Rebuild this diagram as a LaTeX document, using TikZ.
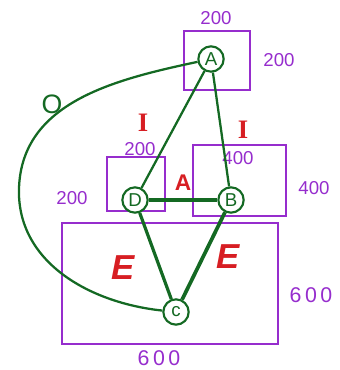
\documentclass[tikz,border=0pt]{standalone}
\usepackage{fontspec}
\setmainfont{Liberation Sans}
\newfontfamily\barfont{Liberation Serif}
\definecolor{boxpurple}{RGB}{150,45,205}
\definecolor{edgegreen}{RGB}{20,105,35}
\definecolor{labred}{RGB}{215,30,35}
\tikzset{
  vert/.style={circle,draw=edgegreen,line width=1.6pt,fill=white,text=edgegreen,
    minimum size=19pt,inner sep=0pt,font=\fontsize{14}{14}\selectfont},
  region/.style={draw=boxpurple,line width=1.1pt},
  size/.style={text=boxpurple,font=\fontsize{14}{14}\selectfont},
  kind/.style={text=labred,font=\fontsize{20}{20}\selectfont\bfseries\itshape},
  link/.style={draw=edgegreen,line width=1.7pt}
}
\begin{document}
\begin{tikzpicture}[x=.75pt,y=.75pt]
  \useasboundingbox (0,0) rectangle (339,-370);
  % regions
  \draw[region] (184,-31) rectangle (250,-90);
  \draw[region] (107,-157) rectangle (165,-211);
  \draw[region] (193,-145) rectangle (286,-216);
  \draw[region] (62,-223) rectangle (278,-344);
  % sizes
  \node[size] (sA1) at (216,-18) {200}; \node[size] (sA2) at (279,-60) {200};
  \node[size] (sD1) at (140,-149) {200}; \node[size] (sD2) at (72,-198) {200};
  \node[size] (sB1) at (238,-158) {400}; \node[size] (sB2) at (314,-188) {400};
  \node[size,font=\fontsize{16}{16}\selectfont] (sC1) at (311,-295) {6\,0\,0};
  \node[size,font=\fontsize{16}{16}\selectfont] (sC2) at (159,-358) {6\,0\,0};
  % vertices
  \node[vert] (A) at (211,-59) {A};
  \node[vert] (D) at (135,-200) {D};
  \node[vert] (B) at (231,-200) {B};
  \node[vert] (C) at (176,-312) {c};
  \coordinate (bend) at (19,-188);
  % links
  \draw[link] (A) -- (D);
  \draw[link] (A) -- (B);
  \draw[link,line width=2.8pt] (D) -- (B);
  \draw[link,line width=2.4pt] (D) -- (C);
  \draw[link,line width=2.8pt] (B) -- (C);
  \draw[link] (A) to[out=192,in=88] (bend) to[out=-92,in=174] (C);
  % kinds
  \node[kind,font=\fontsize{20}{20}\selectfont\bfseries\barfont] (kI1) at (143,-123) {I};
  \node[kind,font=\fontsize{20}{20}\selectfont\bfseries\barfont] (kI2) at (243,-130) {I};
  \node[kind,font=\fontsize{17}{17}\selectfont\bfseries] (kA) at (183,-183) {A};
  \node[kind,font=\fontsize{26}{26}\selectfont\bfseries\itshape] (kE1) at (123,-268) {E};
  \node[kind,font=\fontsize{26}{26}\selectfont\bfseries\itshape] (kE2) at (228,-257) {E};
  \node[text=edgegreen,font=\fontsize{20}{20}\selectfont] (kO) at (52,-104) {O};
\end{tikzpicture}
\end{document}
